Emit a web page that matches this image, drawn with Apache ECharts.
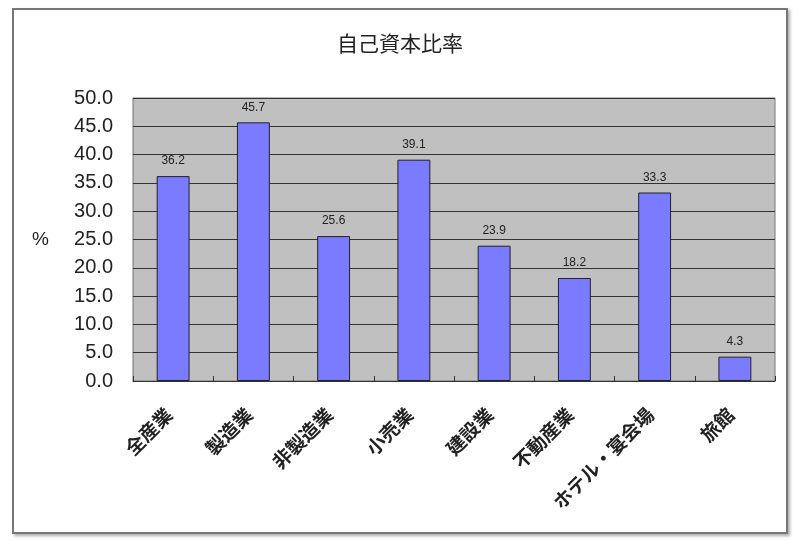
<!DOCTYPE html>
<html><head><meta charset="utf-8">
<script src="https://cdn.jsdelivr.net/npm/echarts@6/dist/echarts.min.js"></script>
<style>html,body{margin:0;padding:0;background:#fff}#c{width:800px;height:544px}
#frame{position:absolute;left:12px;top:8px;width:776px;height:526px;border:2px solid #777;box-sizing:border-box;box-shadow:2px 2px 3px #aaa;pointer-events:none}</style>
</head><body><div id="c"></div><div id="frame"></div>
<script>
const title = '自己資本比率';
const categories = ['全産業','製造業','非製造業','小売業','建設業','不動産業','ホテル・宴会場','旅館'];
const values = [36.2,45.7,25.6,39.1,23.9,18.2,33.3,4.3];
const yTicks = {min:0,max:50,interval:5};
const yName = '%';

const chart = echarts.init(document.getElementById('c'));
chart.setOption({
  animation:false,
  backgroundColor:'#fff',
  title:{text:title,left:'center',top:28,textStyle:{fontFamily:'Noto Sans CJK JP',fontSize:21,fontWeight:'normal',color:'#222'}},
  grid:{left:133,right:25,top:98,bottom:163,show:true,backgroundColor:'#c0c0c0',borderColor:'#777',borderWidth:1},
  xAxis:{type:'category',data:categories,
    axisLine:{lineStyle:{color:'#333',width:1}},
    axisTick:{show:true,inside:true,length:5,lineStyle:{color:'#333'}},
    axisLabel:{rotate:45,margin:26,fontFamily:'Noto Sans CJK JP',fontSize:19,fontWeight:'bold',color:'#222',interval:0,padding:[0,6,0,0]}},
  yAxis:{type:'value',min:yTicks.min,max:yTicks.max,interval:yTicks.interval,
    name:yName,nameLocation:'middle',nameRotate:0,nameGap:84,
    nameTextStyle:{fontFamily:'Liberation Sans',fontSize:19,color:'#222'},
    axisLine:{show:false},axisTick:{show:false},
    axisLabel:{formatter:v=>v.toFixed(1),fontFamily:'Liberation Sans',fontSize:20,color:'#222',margin:20},
    splitLine:{lineStyle:{color:'#333',width:1}}},
  series:[{type:'bar',data:values,barWidth:'41%',
    itemStyle:{color:'#7b7bff',borderColor:'#222',borderWidth:1},
    label:{show:true,position:'top',distance:9,formatter:p=>p.value.toFixed(1),fontFamily:'Liberation Sans',fontSize:12,color:'#222'}}]
});
</script></body></html>
